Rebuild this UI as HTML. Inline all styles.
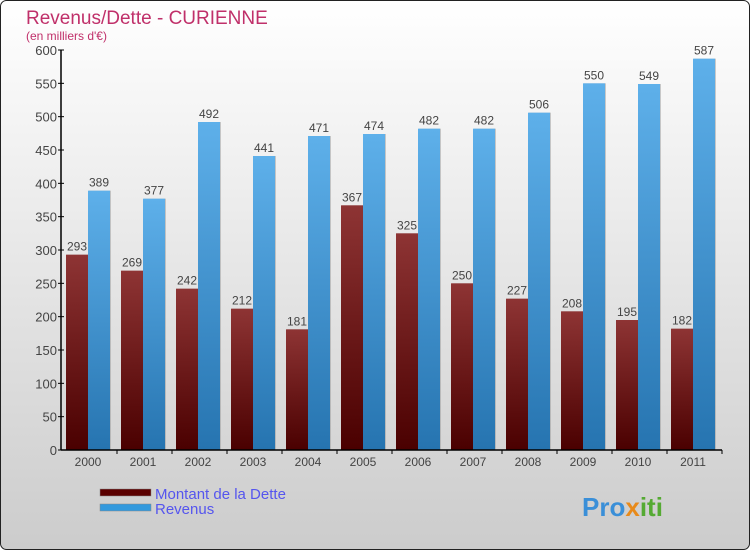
<!DOCTYPE html>
<html><head><meta charset="utf-8"><style>
body{margin:0;width:750px;height:550px;overflow:hidden;font-family:"Liberation Sans",sans-serif}
</style></head><body>
<svg id="chart" width="750" height="550" xmlns="http://www.w3.org/2000/svg">
<defs>
<linearGradient id="bg" x1="0" y1="0" x2="0" y2="1"><stop offset="0" stop-color="#ffffff"/><stop offset="1" stop-color="#cccccc"/></linearGradient>
<linearGradient id="gd" x1="0" y1="0" x2="0" y2="1"><stop offset="0" stop-color="#8e3434"/><stop offset="1" stop-color="#4a0000"/></linearGradient>
<linearGradient id="gr" x1="0" y1="0" x2="0" y2="1"><stop offset="0" stop-color="#5eb0ea"/><stop offset="1" stop-color="#2674b0"/></linearGradient>
</defs>
<rect x="0.5" y="0.5" width="749" height="549" rx="6" fill="url(#bg)" stroke="#222"/>
<text x="26" y="24" font-size="19" fill="#c0306a">Revenus/Dette - CURIENNE</text>
<text x="26" y="40" font-size="12" fill="#c0306a">(en milliers d'€)</text>
<g id="bars"></g>
<g id="axes"></g>
<rect x="100" y="489" width="51" height="7" fill="#5a0000" stroke="#888" stroke-width="0.5"/>
<text x="155" y="499" font-size="15" fill="#5555ee">Montant de la Dette</text>
<rect x="100" y="504" width="51" height="7" fill="#3399dd" stroke="#888" stroke-width="0.5"/>
<text x="155" y="514" font-size="15" fill="#5555ee">Revenus</text>
<text x="582" y="516" font-size="26" font-weight="bold"><tspan fill="#3a8fd8">Pro</tspan><tspan fill="#e88a1a">x</tspan><tspan fill="#55aa33">iti</tspan></text>
</svg>
<script>
const years=["2000","2001","2002","2003","2004","2005","2006","2007","2008","2009","2010","2011"];
const dette=[293,269,242,212,181,367,325,250,227,208,195,182];
const revenus=[389,377,492,441,471,474,482,482,506,550,549,587];
const yTicks=[0,50,100,150,200,250,300,350,400,450,500,550,600];
const NS="http://www.w3.org/2000/svg";
const x0=62,x1=722,yb=450,yt=50,ymax=600;
const gw=(x1-x0)/years.length;
const y=v=>yb-(v/ymax)*(yb-yt);
function mk(t,a,p){const e=document.createElementNS(NS,t);for(const k in a)e.setAttribute(k,a[k]);p.appendChild(e);return e;}
const bars=document.getElementById('bars'),axes=document.getElementById('axes');
years.forEach((yr,i)=>{
  const gx=x0+i*gw;
  const sets=[[dette[i],gx+4,'url(#gd)','dette'],[revenus[i],gx+26,'url(#gr)','revenus']];
  sets.forEach(([v,bx,f,n])=>{
    mk('rect',{x:bx+1,y:y(v),width:22,height:yb-y(v),fill:'#999',opacity:0.5},bars);
    const r=mk('rect',{x:bx,y:y(v),width:22,height:yb-y(v),fill:f},bars);
    
    
    const t=mk('text',{x:bx+11,y:y(v)-4,'text-anchor':'middle','font-size':12,fill:'#444'},bars);
    t.textContent=v;
    
    
  });
  const tl=mk('text',{x:gx+26,y:466,'text-anchor':'middle','font-size':12,fill:'#444'},axes);
  tl.textContent=yr;
  
  
  mk('line',{x1:gx+gw,x2:gx+gw,y1:yb,y2:yb+4,stroke:'#000'},axes);
});
const ya=mk('line',{x1:x0-1,x2:x0-1,y1:yt,y2:yb,stroke:'#000','stroke-width':1.5},axes);

const xa=mk('line',{x1:x0-1,x2:x1,y1:yb,y2:yb,stroke:'#000','stroke-width':1.5},axes);

yTicks.forEach(v=>{
  mk('line',{x1:x0-4,x2:x0+2,y1:y(v),y2:y(v),stroke:'#000'},axes);
  const t=mk('text',{x:x0-5,y:y(v)+5,'text-anchor':'end','font-size':13,fill:'#444'},axes);
  t.textContent=v;
  
  
});
</script>
</body></html>
